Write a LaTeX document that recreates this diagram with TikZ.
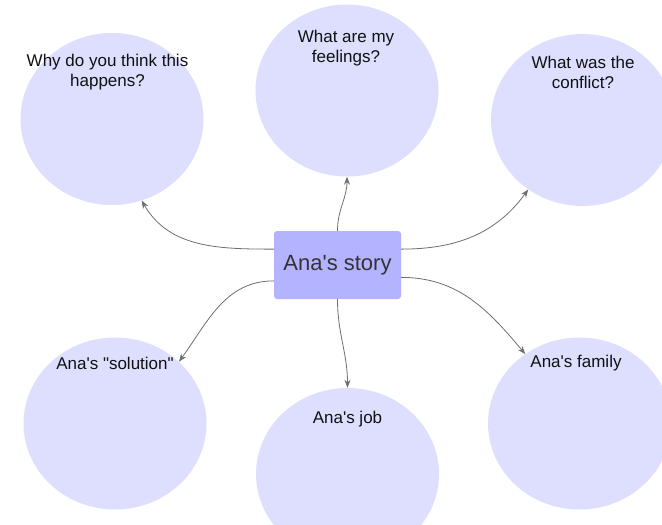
\documentclass[tikz,border=0pt]{standalone}
\usepackage{fontspec}
\setmainfont{Liberation Sans}
\usetikzlibrary{arrows.meta,shapes.geometric}

\definecolor{bubblefill}{HTML}{DEDEFF}
\definecolor{hubfill}{HTML}{B3B3FF}
\definecolor{linkgray}{HTML}{6E6E6E}
\definecolor{hubtext}{HTML}{333333}
\definecolor{bubbletext}{HTML}{111111}

% straight (typewriter-style) quote marks
\newcommand{\sq}{\textquotesingle}
\newcommand{\dq}{\textquotedbl}

\tikzset{
  bubble/.style={ellipse, fill=bubblefill, draw=none,
    minimum width=183pt, minimum height=172pt, inner sep=0pt},
  bubblelabel/.style={align=center, text=bubbletext, inner sep=0pt,
    font=\fontsize{17}{20}\selectfont},
  hub/.style={rectangle, rounded corners=3pt, fill=hubfill, draw=none,
    minimum width=127pt, minimum height=68pt, inner sep=0pt,
    text=hubtext, font=\fontsize{22}{26}\selectfont},
  link/.style={draw=linkgray, line width=0.8pt,
    -{Stealth[length=8pt,width=6pt]}}
}

\begin{document}
\begin{tikzpicture}[x=1pt,y=1pt]
  \useasboundingbox (0,0) rectangle (662,-525);
  \clip (0,0) rectangle (662,-525);

  % outer bubbles
  \node[bubble] (why)      at (112,-119)   {};
  \node[bubble] (feel)     at (347,-90.5)  {};
  \node[bubble] (conflict) at (582.5,-120) {};
  \node[bubble] (solution) at (115,-423.5) {};
  \node[bubble] (job)      at (347.5,-474) {};
  \node[bubble] (family)   at (579.5,-423.5) {};

  % bubble captions
  \node[bubblelabel] (whyT)      at (107.5,-72.5) {Why do you think this\\happens?};
  \node[bubblelabel] (feelT)     at (346,-48.5)   {What are my\\feelings?};
  \node[bubblelabel] (conflictT) at (583,-72.5)   {What was the\\conflict?};
  \node[bubblelabel] (solutionT) at (115,-363.5)  {Ana\sq s \dq solution\dq};
  \node[bubblelabel] (jobT)      at (347.5,-419.5) {Ana\sq s job};
  \node[bubblelabel] (familyT)   at (576,-363.5)  {Ana\sq s family};

  % central topic
  \node[hub] (story) at (337.5,-265) {Ana\sq s story};

  % connectors from the centre to each bubble
  \draw[link] (story.166) to[out=180,in=-60]  (why.-70);
  \draw[link] (story.north) to[out=90,in=-90] (feel.south);
  \draw[link] (story.14)  to[out=0,in=-126]   (conflict.-128);
  \draw[link] (story.194) to[out=180,in=54]   (solution.44);
  \draw[link] (story.south) to[out=-90,in=90] (job.north);
  \draw[link] (story.-11) to[out=0,in=130]    (family.128);
\end{tikzpicture}
\end{document}
